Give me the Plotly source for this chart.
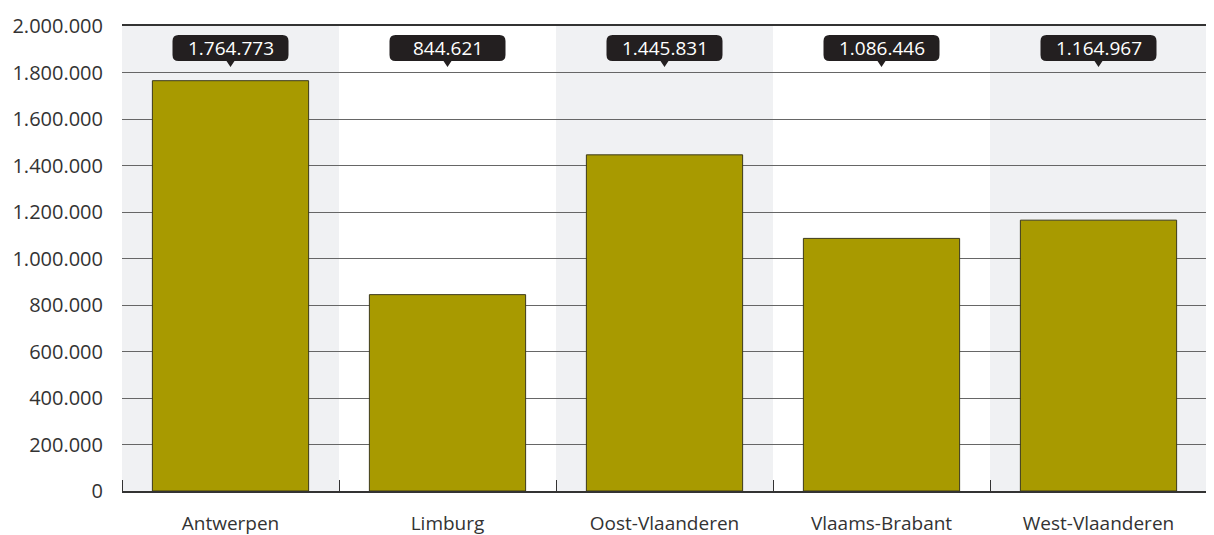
import plotly.graph_objects as go

categories = ["Antwerpen", "Limburg", "Oost-Vlaanderen", "Vlaams-Brabant", "West-Vlaanderen"]
values = [1764773, 844621, 1445831, 1086446, 1164967]
y_ticks = [0, 200000, 400000, 600000, 800000, 1000000, 1200000, 1400000, 1600000, 1800000, 2000000]
y_max = 2000000

FONT = "Open Sans"
BAR = "#a89a00"
BAND = "#f0f1f3"

def fmt(v):
    return f"{v:,}".replace(",", ".")

xs = list(range(len(categories)))

fig = go.Figure()
fig.add_trace(go.Bar(
    x=xs, y=values, width=0.72,
    marker=dict(color=BAR, line=dict(color="#3d3a1a", width=1)),
    hoverinfo="skip", showlegend=False,
))

shapes = []
for i in xs:
    if i % 2 == 0:
        shapes.append(dict(type="rect", xref="x", yref="paper", x0=i - 0.5, x1=i + 0.5,
                           y0=0, y1=1, fillcolor=BAND, line=dict(width=0), layer="below"))
box_path = ("M -52,-9 L 52,-9 Q 58,-9 58,-15 L 58,-29 Q 58,-35 52,-35 "
            "L 4,-35 L 0,-41 L -4,-35 L -52,-35 Q -58,-35 -58,-29 L -58,-15 Q -58,-9 -52,-9 Z")
annotations = []
for i, v in zip(xs, values):
    shapes.append(dict(type="path", xref="x", yref="y", xsizemode="pixel", ysizemode="pixel",
                       xanchor=i, yanchor=y_max, path=box_path,
                       fillcolor="#231f20", line=dict(width=0), layer="above"))
    annotations.append(dict(x=i, y=y_max, xref="x", yref="y", text=fmt(v), showarrow=False,
                            yshift=-22, yanchor="middle",
                            font=dict(family=FONT, size=19, color="white")))

fig.update_layout(
    width=1214, height=535,
    margin=dict(l=114, r=15, t=18, b=52, autoexpand=False),
    plot_bgcolor="white", paper_bgcolor="white",
    separators=",.",
    shapes=shapes, annotations=annotations,
    font=dict(family=FONT, size=19, color="#333333"),
)
fig.update_xaxes(
    range=[-0.5, len(categories) - 0.5],
    tickvals=xs, ticktext=categories,
    showgrid=False, ticks="", showline=True, mirror=True,
    linecolor="#333333", linewidth=1.5,
    ticklabelstandoff=14, automargin=False,
    tickfont=dict(family=FONT, size=19, color="#333333"),
    minor=dict(tick0=-0.5, dtick=1, ticks="inside", ticklen=11, tickcolor="#333333", tickwidth=1),
    fixedrange=True,
)
fig.update_yaxes(
    range=[0, y_max], tickvals=y_ticks, ticktext=[fmt(t) for t in y_ticks],
    showgrid=True, gridcolor="#666666", gridwidth=1,
    zeroline=False, showline=False, ticks="",
    ticklabelstandoff=18, automargin=False,
    tickfont=dict(family=FONT, size=20, color="#333333"),
    fixedrange=True,
)

fig.write_html("out.html")
